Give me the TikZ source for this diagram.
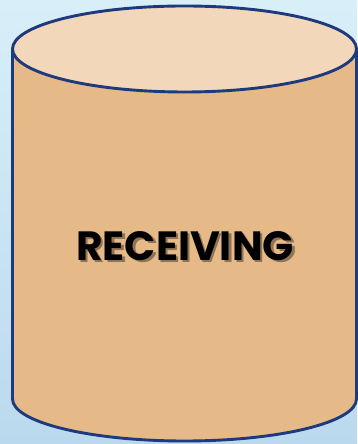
\documentclass[tikz,border=0pt]{standalone}
\usepackage{fontspec}
\newfontfamily\labelfont{Poppins}
\usepackage{xcolor}
\usepackage{tikz}
\definecolor{bgtop}{RGB}{216,239,248}
\definecolor{bgbot}{RGB}{187,217,238}
\definecolor{bodytan}{RGB}{230,186,136}
\definecolor{lidtan}{RGB}{242,215,186}
\definecolor{rimblue}{RGB}{30,58,124}
% shifted copy of the text, kept inside the same node
\newcommand{\shadowcopy}[3]{\rlap{\hspace*{#1bp}\raisebox{-#2bp}{\textcolor{#3}{RECEIVING}}}}

\begin{document}
\begin{tikzpicture}[
  x=1bp, y=1bp,
  rim/.style={draw=rimblue, line width=2.9bp},
  caption/.style={font=\labelfont\bfseries\fontsize{41}{41}\selectfont, inner sep=0pt}
]
  \useasboundingbox (0,0) rectangle (357,444);
  \shade[top color=bgtop, bottom color=bgbot] (0,0) rectangle (357,444);

  % body and lid
  \coordinate (lid) at (184.5,395);
  \coordinate (base) at (184.5,45);
  \filldraw[rim, fill=bodytan] (12.5,395) -- (12.5,45)
    arc[start angle=180, end angle=360, x radius=172, y radius=42]
    -- (356.5,395) -- cycle;
  \filldraw[rim, fill=lidtan] (lid) ellipse [x radius=172, y radius=43];

  % label with soft shadow
  \node[caption] (recv) at (185,197) {%
    \shadowcopy{2.5}{2.5}{black!38!bodytan}%
    RECEIVING};
\end{tikzpicture}
\end{document}
